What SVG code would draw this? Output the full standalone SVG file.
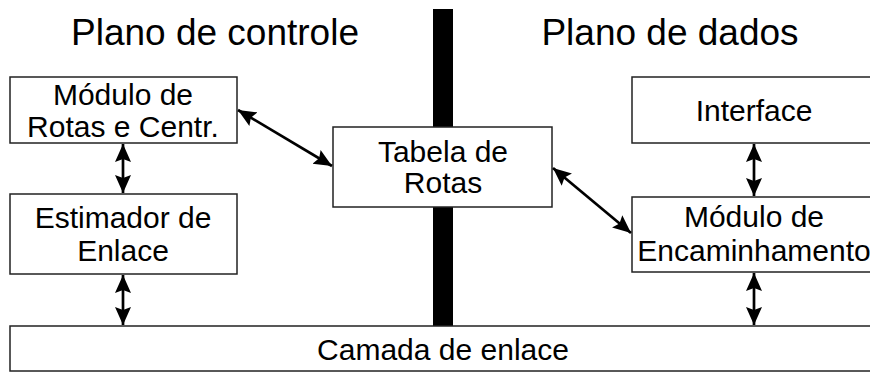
<svg xmlns="http://www.w3.org/2000/svg" width="870" height="372" viewBox="0 0 870 372">
<defs>
<marker id="ah" markerUnits="userSpaceOnUse" markerWidth="20" markerHeight="20" viewBox="0 0 20 20" refX="18" refY="10" orient="auto-start-reverse">
<path d="M0,2 L18,10 L0,18 L3,10 Z" fill="#000"/>
</marker>
</defs>
<style>
.box{fill:#fff;stroke:#222;stroke-width:1.5}
.t{font-family:"Liberation Sans",Arial,sans-serif;font-size:30px;fill:#000;text-anchor:middle}
.title{font-family:"Liberation Sans",Arial,sans-serif;font-size:37px;fill:#000;text-anchor:middle}
.c{stroke:#000;stroke-width:2.7;fill:none;marker-start:url(#ah);marker-end:url(#ah)}
</style>
<text class="title" x="215" y="45">Plano de controle</text>
<text class="title" x="670" y="45">Plano de dados</text>
<rect id="bar" x="433" y="9" width="20" height="318" fill="#000"/>
<g id="camada"><rect class="box" x="10" y="326" width="866" height="45"/><text class="t" x="443" y="360">Camada de enlace</text></g>
<g id="modrotas"><rect class="box" x="10" y="77" width="227" height="66"/><text class="t" x="123" y="105">Módulo de</text><text class="t" x="123" y="137">Rotas e Centr.</text></g>
<g id="estimador"><rect class="box" x="10" y="194" width="227" height="80"/><text class="t" x="123" y="228">Estimador de</text><text class="t" x="123" y="261">Enlace</text></g>
<g id="tabela"><rect class="box" x="333" y="127" width="219" height="80"/><text class="t" x="443" y="162">Tabela de</text><text class="t" x="443" y="193">Rotas</text></g>
<g id="interface"><rect class="box" x="632" y="77" width="244" height="66"/><text class="t" x="754" y="121">Interface</text></g>
<g id="encaminhamento"><rect class="box" x="632" y="197" width="244" height="75"/><text class="t" x="754" y="227">Módulo de</text><text class="t" x="754" y="261">Encaminhamento</text></g>
<g id="connectors">
<line class="c" x1="123" y1="144" x2="123" y2="193"/>
<line class="c" x1="123" y1="275" x2="123" y2="325"/>
<line class="c" x1="754" y1="144" x2="754" y2="196"/>
<line class="c" x1="754" y1="273" x2="754" y2="325"/>
<line class="c" x1="238" y1="110" x2="332" y2="166"/>
<line class="c" x1="553" y1="168" x2="631" y2="233"/>
</g>
</svg>
